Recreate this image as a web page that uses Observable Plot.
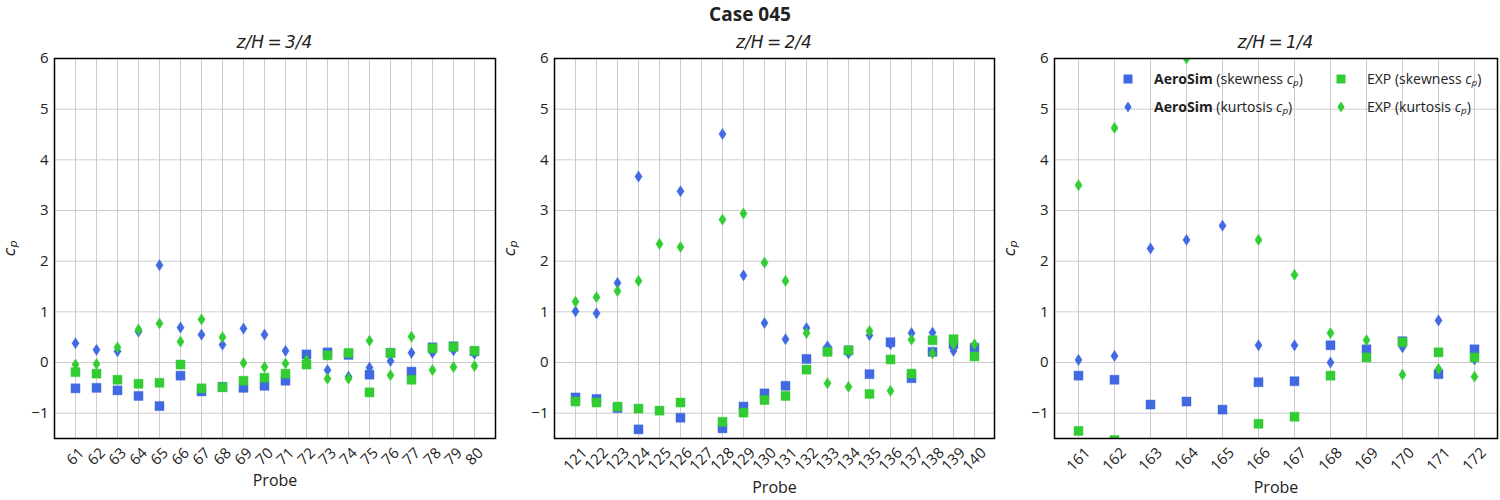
<!DOCTYPE html>
<html>
<head>
<meta charset="utf-8">
<script src="https://cdn.jsdelivr.net/npm/d3@7"></script>
<script src="https://cdn.jsdelivr.net/npm/@observablehq/plot@0.6"></script>
<style>
  body { margin: 0; background: #fff; font-family: "Open Sans", sans-serif; color: #222; }
  #root { position: relative; width: 1500px; height: 500px; overflow: hidden; }
  .title { position: absolute; top: 2px; left: 0; width: 1500px; text-align: center; font-weight: bold; font-size: 19px; line-height: 24px; }
  .sub { position: absolute; top: 31px; text-align: center; font-family: "DejaVu Sans", sans-serif; font-style: italic; font-size: 17px; line-height: 22px; color: #222; }
  .panel { position: absolute; top: 50px; }
  .ylab { position: absolute; font-size: 16px; font-family: "DejaVu Sans", sans-serif; transform: rotate(-90deg); transform-origin: center; width: 24px; text-align: center; line-height: 20px; }
  .ylab sub, .leg sub { font-size: 70%; vertical-align: -0.25em; }
  .leg { position: absolute; font-size: 14px; line-height: 22px; white-space: nowrap; color: #222; }
  .legm { position: absolute; }
</style>
</head>
<body>
<div id="root"></div>
<script>
// ---------- data ----------
const probes1 = ["61","62","63","64","65","66","67","68","69","70","71","72","73","74","75","76","77","78","79","80"];
const aeroSkew1 = [-0.51,-0.50,-0.55,-0.66,-0.86,-0.26,-0.57,-0.48,-0.50,-0.46,-0.36,0.16,0.20,0.15,-0.24,0.19,-0.18,0.30,0.32,0.22];
const aeroKurt1 = [0.38,0.25,0.22,0.61,1.92,0.69,0.55,0.35,0.67,0.55,0.23,0.12,-0.15,-0.28,-0.10,0.03,0.19,0.19,0.24,0.17];
const expSkew1  = [-0.19,-0.22,-0.34,-0.42,-0.40,-0.04,-0.51,-0.49,-0.36,-0.30,-0.22,-0.04,0.14,0.19,-0.59,0.19,-0.34,0.28,0.31,0.23];
const expKurt1  = [-0.04,-0.03,0.30,0.65,0.77,0.41,0.85,0.50,-0.01,-0.09,-0.02,0.04,-0.32,-0.32,0.43,-0.25,0.51,-0.15,-0.09,-0.07];

const probes2 = ["121","122","123","124","125","126","127","128","129","130","131","132","133","134","135","136","137","138","139","140"];
const aeroSkew2 = [-0.69,-0.72,-0.90,-1.32,null,-1.09,null,-1.30,-0.87,-0.61,-0.46,0.07,0.23,0.24,-0.23,0.40,-0.31,0.21,0.36,0.29];
const aeroKurt2 = [1.01,0.97,1.57,3.67,null,3.38,null,4.51,1.72,0.78,0.46,0.68,0.32,0.18,0.54,0.36,0.58,0.59,0.23,0.30];
const expSkew2  = [-0.77,-0.79,-0.87,-0.91,-0.95,-0.79,null,-1.17,-0.99,-0.74,-0.66,-0.14,0.21,0.24,-0.62,0.06,-0.22,0.44,0.46,0.12];
const expKurt2  = [1.20,1.29,1.41,1.61,2.34,2.28,null,2.82,2.94,1.97,1.61,0.58,-0.41,-0.48,0.62,-0.56,0.45,0.18,0.36,0.36];

const probes3 = ["161","162","163","164","165","166","167","168","169","170","171","172"];
const aeroSkew3 = [-0.26,-0.34,-0.83,-0.77,-0.93,-0.39,-0.37,0.34,0.26,0.42,-0.23,0.26];
const aeroKurt3 = [0.05,0.13,2.25,2.42,2.70,0.34,0.34,0.00,0.22,0.30,0.83,0.06];
const expSkew3  = [-1.35,-1.53,null,null,null,-1.21,-1.07,-0.26,0.10,0.40,0.20,0.10];
const expKurt3  = [3.50,4.63,null,6.00,null,2.42,1.73,0.58,0.44,-0.24,-0.13,-0.28];

const yTicks = [-1,0,1,2,3,4,5,6];
const subtitles = ["3/4","2/4","1/4"];

// ---------- style ----------
const blue = "#4169E1", green = "#32CD32";
const thinDiamond = {
  draw(ctx, size) {
    const s = Math.sqrt(size);
    const w = 0.40 * s, h = 0.62 * s;
    ctx.moveTo(0, -h); ctx.lineTo(w, 0); ctx.lineTo(0, h); ctx.lineTo(-w, 0); ctx.closePath();
  }
};
const fmt = d3.format("d");

function makePanel(probes, aSkew, aKurt, eSkew, eKurt, cfg) {
  const dotOpts = (vals, sym, col) => ({
    x: p => p, y: (p, i) => vals[i], symbol: sym, r: 5.1,
    fill: col, stroke: col, strokeOpacity: 0.45, strokeWidth: 1, clip: true
  });
  return Plot.plot({
    width: 500, height: 450,
    marginLeft: cfg.ml, marginRight: cfg.mr, marginTop: 8, marginBottom: 62,
    style: { fontFamily: "Open Sans, sans-serif", fontSize: "15px", color: "#222", overflow: "visible", background: "transparent" },
    x: { type: "point", domain: probes, padding: cfg.pad, axis: null },
    y: { domain: [-1.5, 6], axis: null },
    marks: [
      Plot.ruleY(yTicks, { y: d => d, stroke: "#cccccc", strokeWidth: 1 }),
      Plot.ruleX(probes, { x: d => d, stroke: "#cccccc", strokeWidth: 1 }),
      Plot.dot(probes, dotOpts(aSkew, "square", blue)),
      Plot.dot(probes, dotOpts(aKurt, thinDiamond, blue)),
      Plot.dot(probes, dotOpts(eSkew, "square", green)),
      Plot.dot(probes, dotOpts(eKurt, thinDiamond, green)),
      Plot.text(yTicks, { y: d => d, text: d => fmt(d), frameAnchor: "left", textAnchor: "end", lineAnchor: "middle", dx: -6, fontSize: 15, fill: "#222" }),
      Plot.text(probes, { x: d => d, text: d => d, frameAnchor: "bottom", rotate: -45, textAnchor: "middle", lineAnchor: "middle", dy: cfg.tdy, fontSize: 15, fill: "#222" }),
      Plot.text(["Probe"], { text: d => d, frameAnchor: "bottom", lineAnchor: "middle", dy: cfg.ldy, fontSize: 16, fill: "#222" }),
      Plot.frame({ stroke: "#000", strokeWidth: 1.5 })
    ]
  });
}

const root = document.getElementById("root");
const t = document.createElement("div");
t.className = "title"; t.textContent = "Case 045";
root.appendChild(t);

const panels = [
  { probes: probes1, a: aeroSkew1, b: aeroKurt1, c: expSkew1, d: expKurt1, cfg: { ml: 54, mr: 5, pad: 0.95, tdy: 18, ldy: 42 } },
  { probes: probes2, a: aeroSkew2, b: aeroKurt2, c: expSkew2, d: expKurt2, cfg: { ml: 54, mr: 6, pad: 0.95, tdy: 21, ldy: 49 } },
  { probes: probes3, a: aeroSkew3, b: aeroKurt3, c: expSkew3, d: expKurt3, cfg: { ml: 54, mr: 3, pad: 0.55, tdy: 21, ldy: 49 } }
];

panels.forEach((p, k) => {
  const left = 500 * k;
  const wrap = document.createElement("div");
  wrap.className = "panel"; wrap.style.left = left + "px";
  wrap.appendChild(makePanel(p.probes, p.a, p.b, p.c, p.d, p.cfg));
  root.appendChild(wrap);

  const pl = left + p.cfg.ml, pw = 500 - p.cfg.ml - p.cfg.mr;
  const s = document.createElement("div");
  s.className = "sub"; s.style.left = pl + "px"; s.style.width = pw + "px";
  s.innerHTML = `z/H\u2009=\u2009${subtitles[k]}`;
  root.appendChild(s);

  const yl = document.createElement("div");
  yl.className = "ylab"; yl.style.left = (left + 0) + "px"; yl.style.top = "236px";
  yl.innerHTML = `<i>c</i><sub><i>p</i></sub>`;
  root.appendChild(yl);
});

// ---------- legend (panel 3) ----------
const legendItems = [
  { mx: 1128, my: 79, tx: 1154, col: blue, sym: "sq", html: `<b>AeroSim</b> (skewness <i>c</i><sub><i>p</i></sub>)` },
  { mx: 1128, my: 107, tx: 1154, col: blue, sym: "di", html: `<b>AeroSim</b> (kurtosis <i>c</i><sub><i>p</i></sub>)` },
  { mx: 1341, my: 79, tx: 1367, col: green, sym: "sq", html: `EXP (skewness <i>c</i><sub><i>p</i></sub>)` },
  { mx: 1341, my: 107, tx: 1367, col: green, sym: "di", html: `EXP (kurtosis <i>c</i><sub><i>p</i></sub>)` }
];
legendItems.forEach(it => {
  const m = document.createElementNS("http://www.w3.org/2000/svg", "svg");
  m.setAttribute("width", 14); m.setAttribute("height", 14);
  m.setAttribute("class", "legm");
  m.style.left = (it.mx - 7) + "px"; m.style.top = (it.my - 7) + "px";
  const path = document.createElementNS("http://www.w3.org/2000/svg", "path");
  path.setAttribute("d", it.sym === "sq" ? "M2.5,2.5H11.5V11.5H2.5Z" : "M7,1.4L10.6,7L7,12.6L3.4,7Z");
  path.setAttribute("fill", it.col);
  m.appendChild(path);
  root.appendChild(m);
  const d = document.createElement("div");
  d.className = "leg"; d.style.left = it.tx + "px"; d.style.top = (it.my - 11) + "px";
  d.innerHTML = it.html;
  root.appendChild(d);
});
</script>
</body>
</html>
